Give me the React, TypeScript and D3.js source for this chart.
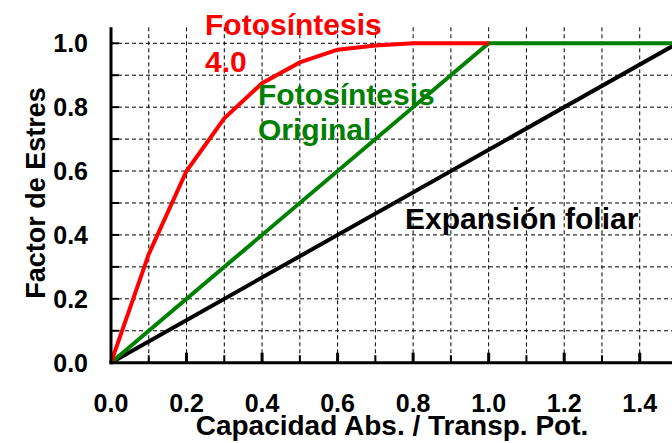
import React from "react";
import * as d3 from "d3";

const W = 672;
const H = 443;

const xTickValues = [0, 0.2, 0.4, 0.6, 0.8, 1.0, 1.2, 1.4];
const yTickValues = [0, 0.2, 0.4, 0.6, 0.8, 1.0];
const gridStep = [0.1, 0.2, 0.3, 0.4, 0.5, 0.6, 0.7, 0.8, 0.9, 1.0, 1.1, 1.2, 1.3, 1.4, 1.5];
const yGrid = [0.1, 0.2, 0.3, 0.4, 0.5, 0.6, 0.7, 0.8, 0.9, 1.0];

const foto40X = [0, 0.1, 0.2, 0.3, 0.4, 0.5, 0.6, 0.7, 0.8, 1.0];
const foto40Y = [0, 0.34, 0.6, 0.765, 0.875, 0.94, 0.98, 0.993, 1.0, 1.0];
const fotoOrigX = [0, 1.0, 1.5];
const fotoOrigY = [0, 1.0, 1.0];
const expX = [0, 1.5];
const expY = [0, 1.0];

const FONT = "'Liberation Sans', Arial, sans-serif";

export default function App() {
  const x = d3.scaleLinear().domain([0, 1.5]).range([111, 677.5]);
  const y = d3.scaleLinear().domain([0, 1.05]).range([362.7, 27.3]);
  const line = d3
    .line<[number, number]>()
    .x((d) => x(d[0]))
    .y((d) => y(d[1]));
  const zip = (a: number[], b: number[]) => a.map((v, i) => [v, b[i]] as [number, number]);

  const fmt = d3.format(".1f");

  return (
    <svg
      width={W}
      height={H}
      style={{ position: "absolute", left: 0, top: 0, background: "#fff" }}
      fontFamily={FONT}
    >
      <rect width={W} height={H} fill="#fff" />
      {/* grid */}
      <g stroke="#000" strokeWidth={1} strokeDasharray="4,3">
        {gridStep.map((v) => (
          <line key={"gx" + v} x1={x(v)} x2={x(v)} y1={y(1.05)} y2={y(0)} />
        ))}
        {yGrid.map((v) => (
          <line key={"gy" + v} x1={x(0)} x2={W} y1={y(v)} y2={y(v)} />
        ))}
      </g>
      {/* series */}
      <path d={line(zip(expX, expY)) || ""} fill="none" stroke="#000" strokeWidth={4} />
      <path d={line(zip(fotoOrigX, fotoOrigY)) || ""} fill="none" stroke="#008000" strokeWidth={4} />
      <path d={line(zip(foto40X, foto40Y)) || ""} fill="none" stroke="#ff0000" strokeWidth={4} />
      {/* axes */}
      <line x1={x(0)} x2={x(0)} y1={y(1.05)} y2={y(0) + 1.5} stroke="#000" strokeWidth={3} />
      <line x1={x(0) - 1.5} x2={W} y1={y(0)} y2={y(0)} stroke="#000" strokeWidth={3} />
      {/* y ticks */}
      {yGrid.map((v) => (
        <line key={"ty" + v} x1={x(0)} x2={x(0) + 8} y1={y(v)} y2={y(v)} stroke="#000" strokeWidth={2} />
      ))}
      {/* x ticks */}
      {gridStep.map((v, i) => {
        const major = i % 2 === 1;
        return (
          <line
            key={"tx" + v}
            x1={x(v)}
            x2={x(v)}
            y1={y(0)}
            y2={y(0) - (major ? 10 : 7.5)}
            stroke="#000"
            strokeWidth={major ? 3 : 2}
          />
        );
      })}
      {/* tick labels */}
      <g fontSize={25} fontWeight="bold" fill="#000">
        {yTickValues.map((v) => (
          <text key={"ly" + v} x={88} y={y(v)} dy="0.36em" textAnchor="end">
            {fmt(v)}
          </text>
        ))}
        {xTickValues.map((v) => (
          <text key={"lx" + v} x={x(v)} y={412} textAnchor="middle">
            {fmt(v)}
          </text>
        ))}
      </g>
      {/* axis titles */}
      <text x={392} y={435} textAnchor="middle" fontSize={28} fontWeight="bold" fill="#000">
        Capacidad Abs. / Transp. Pot.
      </text>
      <text
        transform="translate(45,193) rotate(-90)"
        textAnchor="middle"
        fontSize={27}
        fontWeight="bold"
        fill="#000"
      >
        Factor de Estres
      </text>
      {/* annotations */}
      <g fontSize={30} fontWeight="bold">
        <text x={205} y={35} fill="#ff0000">Fotosíntesis</text>
        <text x={205} y={72} fill="#ff0000">4.0</text>
        <text x={258} y={105} fill="#008000">Fotosíntesis</text>
        <text x={258} y={140} fill="#008000">Original</text>
        <text x={405} y={229} fill="#000">Expansión foliar</text>
      </g>
    </svg>
  );
}
